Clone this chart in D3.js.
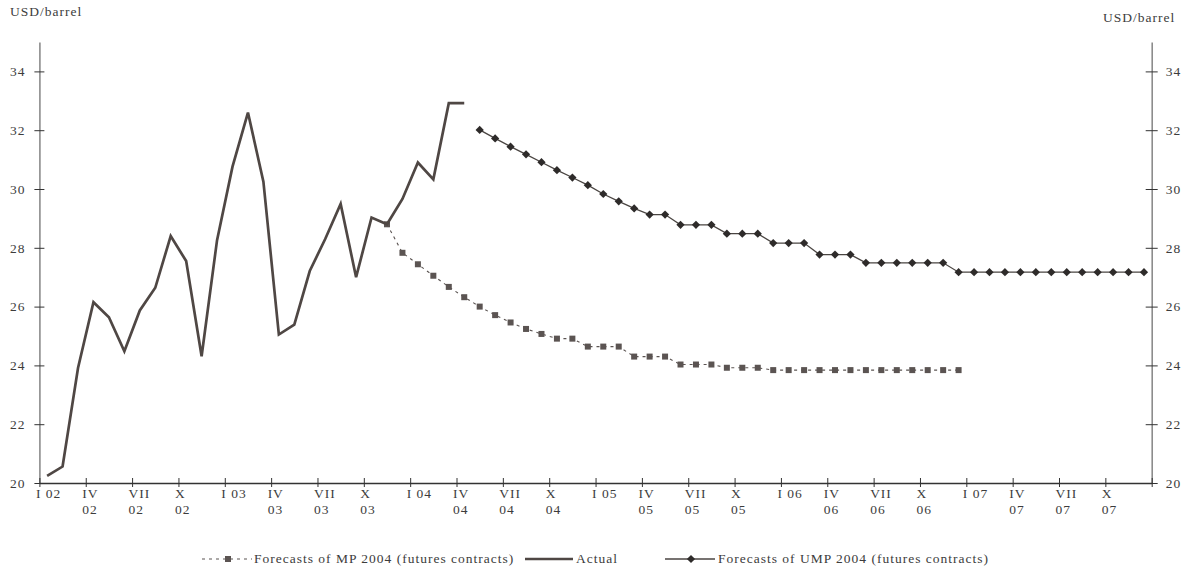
<!DOCTYPE html>
<html><head><meta charset="utf-8">
<script src="https://cdn.jsdelivr.net/npm/d3@7"></script>
<style>
body{margin:0;background:#fff;}
text{font-family:"Liberation Serif","Times New Roman",serif;fill:#3c3c3c;}
</style></head>
<body><svg id="chart" width="1191" height="576"></svg>
<script>
// Monthly data, index 0 = Jan 2002
const actualStart = 0;
const actualValues = [20.24,20.56,23.91,26.15,25.64,24.48,25.87,26.64,28.40,27.55,24.31,28.26,
  30.76,32.60,30.25,25.05,25.39,27.21,28.30,29.49,27.00,29.03,28.80,29.66,
  30.90,30.33,32.92,32.92];
const mpStart = 22; // Nov 2003
const mpValues = [28.80,27.83,27.44,27.05,26.67,26.32,26.00,25.71,25.46,25.24,25.07,24.91,24.91,
  24.64,24.64,24.64,24.30,24.30,24.30,24.03,24.03,24.03,23.92,23.92,23.92,
  23.84,23.84,23.84,23.84,23.84,23.84,23.84,23.84,23.84,23.84,23.84,23.84,23.84];
const umpStart = 28; // May 2004
const umpValues = [32.01,31.72,31.44,31.18,30.91,30.64,30.39,30.13,29.83,29.58,29.34,29.13,29.13,
  28.78,28.78,28.78,28.48,28.48,28.48,28.16,28.16,28.16,27.77,27.77,27.77,
  27.49,27.49,27.49,27.49,27.49,27.49,
  27.17,27.17,27.17,27.17,27.17,27.17,27.17,27.17,27.17,27.17,27.17,27.17,27.17];
const quarterLabels = ["I","IV","VII","X"];
const years = ["02","03","04","05","06","07"];
const yTicks = [20,22,24,26,28,30,32,34];
const unitLabel = "USD/barrel";
const legendLabels = ["Forecasts of MP 2004 (futures contracts)","Actual","Forecasts of UMP 2004 (futures contracts)"];

const svg = d3.select("#chart");
const x = d3.scaleLinear().domain([0,72]).range([39.4,1151.7]);
const y = d3.scaleLinear().domain([20,35]).range([483,42]);
const fs = "13.5px", ls = "1px";

// Axes
const yLeft = d3.axisLeft(y).tickValues(yTicks).tickSizeInner(5).tickSizeOuter(0).tickPadding(9);
const gL = svg.append("g").attr("transform",`translate(${x(0)},0)`).call(yLeft);
const yRight = d3.axisRight(y).tickValues(yTicks).tickSizeInner(6).tickSizeOuter(0).tickPadding(8);
const gR = svg.append("g").attr("transform",`translate(${x(72)},0)`).call(yRight);
[gL,gR].forEach((g,k)=>{
  g.select(".domain").attr("stroke","#8c8c8c").attr("stroke-width",1.6);
  g.selectAll(".tick line").attr("stroke","#333").attr("x1",k===0?5:-6);
  g.selectAll(".tick text").attr("font-size",fs).style("letter-spacing",ls).attr("fill","#3c3c3c")
    .attr("font-family","Liberation Serif");
});

const xTickVals = d3.range(0,73,3);
const xAxis = d3.axisBottom(x).tickValues(xTickVals).tickSizeInner(4).tickSizeOuter(0).tickFormat("");
const gX = svg.append("g").attr("transform",`translate(0,${y(20)})`).call(xAxis);
gX.select(".domain").attr("stroke","#333").attr("stroke-width",1.3);
gX.selectAll(".tick line").attr("stroke","#333").attr("y1",-5).attr("y2",4);

// x labels
xTickVals.filter(v=>v<72).forEach(v=>{
  const q = quarterLabels[(v%12)/3];
  const yr = years[Math.floor(v/12)];
  const t = svg.append("text").attr("x",x(v)-3.5).attr("y",498)
    .attr("font-size",fs).style("letter-spacing",ls);
  if(q==="I"){ t.text(q+" "+yr); }
  else {
    t.text(q);
    svg.append("text").attr("x",x(v)-3.5).attr("y",514).attr("font-size",fs).style("letter-spacing",ls).text(yr);
  }
});

// unit labels
svg.append("text").attr("x",10).attr("y",16).attr("font-size",fs).style("letter-spacing",ls).text(unitLabel);
svg.append("text").attr("x",1103).attr("y",22).attr("font-size",fs).style("letter-spacing",ls).text(unitLabel);

const line = d3.line().x(d=>x(d.i+0.5)).y(d=>y(d.v));
const actual = actualValues.map((v,k)=>({i:actualStart+k,v}));
const mp = mpValues.map((v,k)=>({i:mpStart+k,v}));
const ump = umpValues.map((v,k)=>({i:umpStart+k,v}));

// MP forecast
svg.append("path").datum(mp).attr("d",line).attr("fill","none")
  .attr("stroke","#5b5452").attr("stroke-width",1.1).attr("stroke-dasharray","3,4");
svg.append("g").selectAll("rect").data(mp).join("rect")
  .attr("x",d=>x(d.i+0.5)-3).attr("y",d=>y(d.v)-3).attr("width",6).attr("height",6).attr("fill","#5b5452");

// Actual
svg.append("path").datum(actual).attr("d",line).attr("fill","none")
  .attr("stroke","#4f4744").attr("stroke-width",2.7).attr("stroke-linejoin","miter");

// UMP forecast
svg.append("path").datum(ump).attr("d",line).attr("fill","none")
  .attr("stroke","#4a4542").attr("stroke-width",1.3);
const dia = d3.symbol().type(d3.symbolSquare).size(34);
svg.append("g").selectAll("path").data(ump).join("path")
  .attr("d", dia)
  .attr("transform",d=>`translate(${x(d.i+0.5)},${y(d.v)}) rotate(45)`)
  .attr("fill","#2e2b2a");

// Legend
const ly = 559;
const lg = svg.append("g");
lg.append("line").attr("x1",202).attr("x2",252).attr("y1",ly).attr("y2",ly)
  .attr("stroke","#5b5452").attr("stroke-width",1.1).attr("stroke-dasharray","3,4");
lg.append("rect").attr("x",225).attr("y",ly-3).attr("width",6).attr("height",6).attr("fill","#5b5452");
lg.append("text").attr("x",254).attr("y",563).attr("font-size",fs).style("letter-spacing",ls).text(legendLabels[0]);
lg.append("line").attr("x1",525).attr("x2",573).attr("y1",ly).attr("y2",ly)
  .attr("stroke","#4f4744").attr("stroke-width",2.7);
lg.append("text").attr("x",576).attr("y",563).attr("font-size",fs).style("letter-spacing",ls).text(legendLabels[1]);
lg.append("line").attr("x1",665).attr("x2",715).attr("y1",ly).attr("y2",ly)
  .attr("stroke","#4a4542").attr("stroke-width",1.3);
lg.append("path").attr("d", dia())
  .attr("transform",`translate(691,${ly}) rotate(45)`).attr("fill","#2e2b2a");
lg.append("text").attr("x",718).attr("y",563).attr("font-size",fs).style("letter-spacing",ls).text(legendLabels[2]);
</script></body></html>
